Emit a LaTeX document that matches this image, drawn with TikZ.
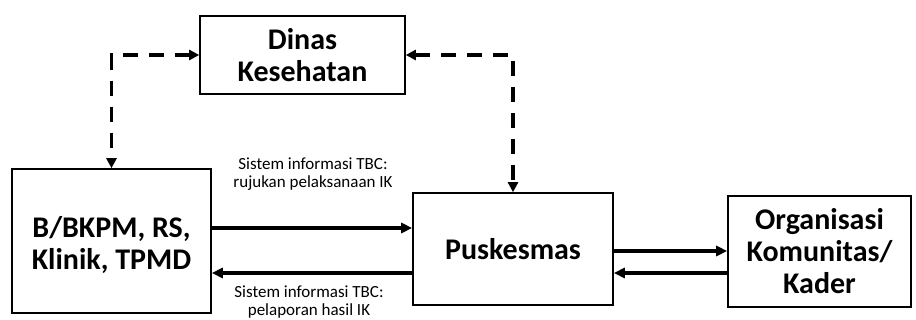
\documentclass[tikz,border=0pt]{standalone}
\usepackage{fontspec}
\setmainfont{Carlito}
\usetikzlibrary{arrows.meta}
\begin{document}
\begin{tikzpicture}[x=1pt,y=-1pt,
  box/.style={draw,line width=1.6pt,inner sep=0pt,align=center,
    font=\fontsize{30}{32}\selectfont\bfseries},
  flow/.style={line width=3.4pt,-{Triangle[length=11pt,width=10pt]}},
  link/.style={line width=3.4pt,dash pattern=on 15pt off 11pt,
    {Triangle[length=10pt,width=10pt]}-{Triangle[length=10pt,width=10pt]}},
  note/.style={align=center,inner sep=0pt,
    font=\fontsize{17}{18.5}\selectfont}]
\useasboundingbox (0,0) rectangle (916,320);

% boxes
\node[box,minimum width=205pt,minimum height=78pt] (dinas) at (302.5,55) {Dinas\\Kesehatan};
\node[box,minimum width=199pt,minimum height=144pt] (bk) at (111.5,241) {};
\node[box,draw=none] (bktext) at (111.5,245) {B/BKPM, RS,\\Klinik, TPMD};
\node[box,minimum width=200pt,minimum height=112pt] (pusk) at (513,249) {Puskesmas};
\node[box,minimum width=183pt,minimum height=111pt] (org) at (819.5,251.5) {Organisasi\\Komunitas/\\Kader};

% dashed coordination links with the health office
\draw[link] (dinas.west) -| (bk.north);
\draw[link] (dinas.east) -| (pusk.north);

% reporting flows
\coordinate (r1) at (0,228);
\coordinate (r2) at (0,273);
\coordinate (r3) at (0,251);
\draw[flow] (bk.east |- r1) -- (pusk.west |- r1);
\draw[flow] (pusk.west |- r2) -- (bk.east |- r2);
\draw[flow] (pusk.east |- r3) -- (org.west |- r3);
\draw[flow] (org.west |- r2) -- (pusk.east |- r2);

% flow labels
\node[note] (n1) at (313,174) {Sistem informasi TBC:\\rujukan pelaksanaan IK};
\node[note] (n2) at (309,302) {Sistem informasi TBC:\\pelaporan hasil IK};
\end{tikzpicture}
\end{document}
